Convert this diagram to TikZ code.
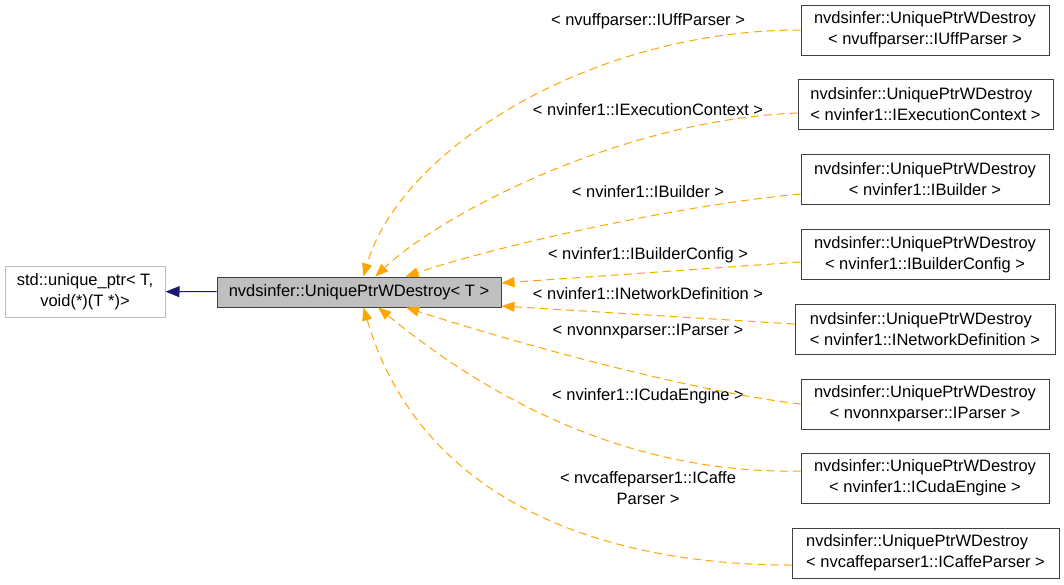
\documentclass[tikz,border=0pt]{standalone}
\usepackage{fontspec}
\setmainfont{Liberation Sans}
\usetikzlibrary{arrows.meta}
\definecolor{deporange}{HTML}{FFA500}
\definecolor{inhnavy}{HTML}{191970}
\definecolor{grey75}{HTML}{BFBFBF}
\definecolor{boxline}{HTML}{404040}

\begin{document}
\begin{tikzpicture}[x=1pt,y=-1pt,
  txt/.style={font=\fontsize{16.5}{21}\selectfont},
  lbl/.style={txt, align=center, inner sep=0pt},
  cls/.style={txt, draw=boxline, line width=1pt, align=center, minimum height=50pt, inner xsep=11pt, inner ysep=2pt},
  dep/.style={draw=deporange, line width=1pt, dash pattern=on 8pt off 5pt, -{Triangle[length=13pt,width=10pt]}},
  inh/.style={draw=inhnavy, line width=1pt, -{Triangle[length=14pt,width=11pt]}}]
\useasboundingbox (0,0) rectangle (1064,584);

% classes
\node[cls, draw=grey75, minimum width=160pt, minimum height=51pt] (base) at (85,291.5) {std::unique\_ptr< T,\\void(*)(T *)>};
\node[cls, fill=grey75, minimum width=284pt, minimum height=30pt] (main) at (359,292) {nvdsinfer::UniquePtrWDestroy< T >};
\node[cls, minimum width=248pt] (uff) at (925,30) {nvdsinfer::UniquePtrWDestroy\\< nvuffparser::IUffParser >};
\node[cls, align=left, minimum width=255pt] (exec) at (925.5,104.5) {nvdsinfer::UniquePtrWDestroy\\< nvinfer1::IExecutionContext >};
\node[cls, minimum width=248pt] (builder) at (925,179.5) {nvdsinfer::UniquePtrWDestroy\\< nvinfer1::IBuilder >};
\node[cls, minimum width=248pt] (config) at (925,254.5) {nvdsinfer::UniquePtrWDestroy\\< nvinfer1::IBuilderConfig >};
\node[cls, align=left, minimum width=260pt] (netdef) at (925,329.5) {nvdsinfer::UniquePtrWDestroy\\< nvinfer1::INetworkDefinition >};
\node[cls, minimum width=248pt] (onnx) at (925,404) {nvdsinfer::UniquePtrWDestroy\\< nvonnxparser::IParser >};
\node[cls, minimum width=248pt] (cuda) at (925,478) {nvdsinfer::UniquePtrWDestroy\\< nvinfer1::ICudaEngine >};
\node[cls, align=left, minimum width=267pt] (caffe) at (925.5,553) {nvdsinfer::UniquePtrWDestroy\\< nvcaffeparser1::ICaffeParser >};

% template labels
\node[lbl] (luff) at (648,21.7) {< nvuffparser::IUffParser >};
\node[lbl] (lexec) at (648,110) {< nvinfer1::IExecutionContext >};
\node[lbl] (lbuilder) at (648,191.7) {< nvinfer1::IBuilder >};
\node[lbl] (lconfig) at (648,255) {< nvinfer1::IBuilderConfig >};
\node[lbl] (lnetdef) at (648,293.3) {< nvinfer1::INetworkDefinition >};
\node[lbl] (lonnx) at (648,331.7) {< nvonnxparser::IParser >};
\node[lbl] (lcuda) at (648,396.7) {< nvinfer1::ICudaEngine >};
\node[lbl] (lcaffe) at (648,487.8) {< nvcaffeparser1::ICaffe\\Parser >};

% edges
\draw[inh] (main) -- (base);
\draw[dep] (uff.west) .. controls (590,30) and (400,150) .. (main);
\draw[dep] ([yshift=-8.5pt]exec.west) .. controls (620,120) and (440,215) .. (main);
\draw[dep] ([yshift=-14.5pt]builder.west) .. controls (680,205) and (500,245) .. (main);
\draw[dep] ([yshift=-7.5pt]config.west) -- ([yshift=9pt]main.east);
\draw[dep] ([yshift=5.5pt]netdef.west) -- ([yshift=-14pt]main.east);
\draw[dep] (onnx.west) .. controls (680,390) and (490,335) .. (main);
\draw[dep] ([yshift=7pt]cuda.west) .. controls (600,475) and (455,370) .. (main);
\draw[dep] ([yshift=-12pt]caffe.west) .. controls (600,565) and (420,500) .. (main);
\end{tikzpicture}
\end{document}
